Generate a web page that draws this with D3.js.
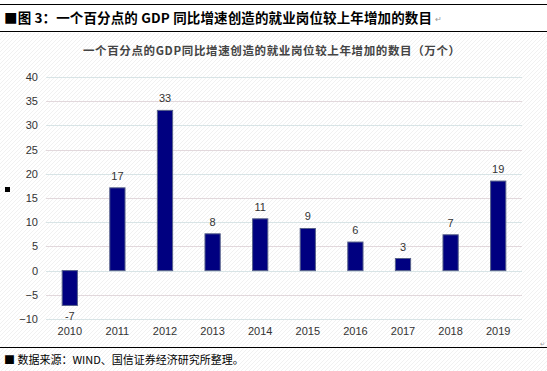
<!DOCTYPE html>
<html>
<head>
<meta charset="utf-8">
<script src="https://cdn.jsdelivr.net/npm/d3@7"></script>
<style>
  body { margin: 0; background: #fff; }
  svg { display: block; }
</style>
</head>
<body>
<script>
var years = ["2010", "2011", "2012", "2013", "2014", "2015", "2016", "2017", "2018", "2019"];
var jobs = [-7.2, 17.1, 33.1, 7.6, 10.7, 8.7, 5.9, 2.5, 7.4, 18.5];
var labels = ["-7", "17", "33", "8", "11", "9", "6", "3", "7", "19"];
var yTicks = [-10, -5, 0, 5, 10, 15, 20, 25, 30, 35, 40];

var width = 547, height = 371;
var cjk = "'Noto Sans CJK SC', sans-serif";
var latin = "'Liberation Sans', Arial, sans-serif";

var svg = d3.select("body").append("svg")
  .attr("width", width)
  .attr("height", height);

// faint diagonal texture
var defs = svg.append("defs");
var pat = defs.append("pattern")
  .attr("id", "hatch")
  .attr("width", 4).attr("height", 4)
  .attr("patternUnits", "userSpaceOnUse");
pat.append("rect").attr("width", 4).attr("height", 4).attr("fill", "#fff");
pat.append("path").attr("d", "M0,4 L4,0").attr("stroke", "#f1f1f1").attr("stroke-width", 1);

svg.append("rect").attr("x", 0).attr("y", 33).attr("width", width).attr("height", height - 33)
  .attr("fill", "url(#hatch)");

// header
svg.append("line").attr("x1", 0).attr("x2", width).attr("y1", 4.5).attr("y2", 4.5)
  .attr("stroke", "#000").attr("stroke-width", 1);
svg.append("line").attr("x1", 0).attr("x2", width).attr("y1", 31.5).attr("y2", 31.5)
  .attr("stroke", "#000").attr("stroke-width", 1);
svg.append("text")
  .attr("x", 4).attr("y", 23)
  .attr("textLength", 428).attr("lengthAdjust", "spacing")
  .style("font-family", cjk).style("font-size", "13.5px").style("font-weight", "bold")
  .attr("fill", "#000")
  .text("■图 3：一个百分点的 GDP 同比增速创造的就业岗位较上年增加的数目");
svg.append("text")
  .attr("x", 435).attr("y", 22)
  .style("font-family", latin).style("font-size", "8px").attr("fill", "#999")
  .text("↵");

// chart title
svg.append("text")
  .attr("x", 83).attr("y", 55)
  .attr("textLength", 377).attr("lengthAdjust", "spacing")
  .style("font-family", cjk).style("font-size", "11.5px").style("font-weight", "bold")
  .attr("fill", "#444")
  .text("一个百分点的GDP同比增速创造的就业岗位较上年增加的数目（万个）");

var x = d3.scaleBand().domain(years).range([46, 522]).paddingInner(0.68).paddingOuter(0.34);
var y = d3.scaleLinear().domain([-10, 40]).range([319, 77]);

// gridlines
svg.append("g").selectAll("line")
  .data(yTicks)
  .enter()
  .append("line")
  .attr("x1", 46).attr("x2", 522)
  .attr("y1", function (d) { return Math.round(y(d)) + 0.5; })
  .attr("y2", function (d) { return Math.round(y(d)) + 0.5; })
  .attr("stroke", function (d, i) { return i % 2 ? "#e2d8dc" : "#d8e4e6"; })
  .attr("stroke-width", 1);

// y axis labels
var yAxis = d3.axisLeft(y).tickValues(yTicks).tickSize(0).tickPadding(0);
var gy = svg.append("g").attr("transform", "translate(38,0)").call(yAxis);
gy.select(".domain").remove();
gy.selectAll("text")
  .style("font-family", latin).style("font-size", "11px").attr("fill", "#333");

// x axis labels
var xAxis = d3.axisBottom(x).tickSize(0).tickPadding(0);
var gx = svg.append("g").attr("transform", "translate(0,327)").call(xAxis);
gx.select(".domain").remove();
gx.selectAll("text")
  .style("font-family", latin).style("font-size", "11px").attr("fill", "#333");

// bars
svg.append("g").selectAll("rect")
  .data(jobs)
  .enter()
  .append("rect")
  .attr("x", function (d, i) { return x(years[i]); })
  .attr("y", function (d) { return y(Math.max(0, d)); })
  .attr("width", x.bandwidth())
  .attr("height", function (d) { return Math.abs(y(d) - y(0)); })
  .attr("fill", "#000080")
  .attr("stroke", "#56608a")
  .attr("stroke-width", 1);

// value labels
svg.append("g").selectAll("text")
  .data(jobs)
  .enter()
  .append("text")
  .attr("x", function (d, i) { return x(years[i]) + x.bandwidth() / 2; })
  .attr("y", function (d) { return d >= 0 ? y(d) - 8 : y(d) + 15; })
  .attr("text-anchor", "middle")
  .style("font-family", latin).style("font-size", "11px").attr("fill", "#333")
  .text(function (d, i) { return labels[i]; });

// legend marker
svg.append("rect").attr("x", 5).attr("y", 187).attr("width", 5).attr("height", 5).attr("fill", "#000");

// footer
svg.append("line").attr("x1", 0).attr("x2", width).attr("y1", 347.5).attr("y2", 347.5)
  .attr("stroke", "#000").attr("stroke-width", 1);
svg.append("text")
  .attr("x", 540).attr("y", 346)
  .style("font-family", latin).style("font-size", "6px").attr("fill", "#999")
  .text("↵");
svg.append("text")
  .attr("x", 4).attr("y", 364)
  .style("font-family", cjk).style("font-size", "11px")
  .attr("fill", "#000")
  .text("■ 数据来源：WIND、国信证券经济研究所整理。");
</script>
</body>
</html>
